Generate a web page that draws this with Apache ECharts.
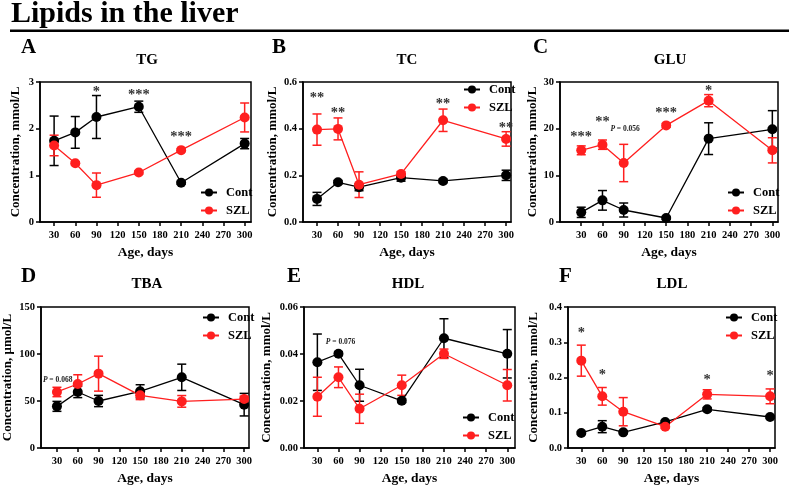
<!DOCTYPE html>
<html>
<head>
<meta charset="utf-8">
<script src="https://cdn.jsdelivr.net/npm/echarts@6/dist/echarts.min.js"></script>
<style>html,body{margin:0;padding:0;background:#fff}#c{width:789px;height:488px}</style>
</head>
<body>
<div id="c"></div>
<script>
const FONT = "'Liberation Serif','Times New Roman',serif";
const RED = '#ff1f1f';
const days = [30, 60, 90, 150, 210, 300];
const xTicks = [30, 60, 90, 120, 150, 180, 210, 240, 270, 300];

// TG (mmol/L)
const tgCont = [1.74, 1.92, 2.25, 2.47, 0.84, 1.68];
const tgContErr = [0.53, 0.34, 0.46, 0.12, 0.03, 0.11];
const tgSZL = [1.64, 1.26, 0.79, 1.06, 1.54, 2.24];
const tgSZLErr = [0.22, 0.03, 0.26, 0.03, 0.03, 0.31];
const tgMarks = [[90, 2.87, '*'], [150, 2.81, '***'], [210, 1.9, '***']];

// TC (mmol/L)
const tcCont = [0.099, 0.17, 0.149, 0.19, 0.176, 0.2];
const tcContErr = [0.028, 0.008, 0.015, 0.015, 0.008, 0.022];
const tcSZL = [0.396, 0.399, 0.16, 0.206, 0.436, 0.356];
const tcSZLErr = [0.067, 0.047, 0.055, 0.01, 0.048, 0.031];
const tcMarks = [[30, 0.546, '**'], [60, 0.484, '**'], [210, 0.52, '**'], [300, 0.42, '**']];

// GLU (mmol/L)
const gluCont = [2.07, 4.64, 2.57, 0.86, 17.86, 19.86];
const gluContErr = [1.1, 2.1, 1.5, 0.3, 3.4, 4.0];
const gluSZL = [15.36, 16.57, 12.64, 20.7, 26.0, 15.36];
const gluSZLErr = [0.95, 1.0, 4.0, 0.4, 1.3, 2.7];
const gluMarks = [[30, 19.1, '***'], [60, 22.3, '**'], [150, 24.2, '***'], [210, 28.9, '*']];
const gluP = [[92, 19.9, '{i|P} = 0.056']];

// TBA (µmol/L)
const tbaCont = [44.3, 59.6, 50, 60.3, 75.2, 46.1];
const tbaContErr = [5.3, 6, 6, 7, 14, 12];
const tbaSZL = [59.6, 68.1, 79.1, 56, 49.6, 52.1];
const tbaSZLErr = [5, 9.8, 18.6, 4.5, 6.2, 3];
const tbaMarks = [];
const tbaP = [[31, 72.7, '{i|P} = 0.068']];

// HDL (mmol/L)
const hdlCont = [0.0365, 0.0401, 0.0267, 0.0201, 0.0467, 0.0401];
const hdlContErr = [0.012, 0.0008, 0.0068, 0.0008, 0.0083, 0.0103];
const hdlSZL = [0.0218, 0.0301, 0.0167, 0.0267, 0.0401, 0.0267];
const hdlSZLErr = [0.0083, 0.0044, 0.0062, 0.0043, 0.002, 0.0067];
const hdlMarks = [];
const hdlP = [[63, 0.045, '{i|P} = 0.076']];

// LDL (mmol/L)
const ldlCont = [0.0426, 0.0605, 0.0444, 0.0738, 0.1097, 0.0879];
const ldlContErr = [0.004, 0.017, 0.004, 0.004, 0.005, 0.004];
const ldlSZL = [0.2478, 0.1466, 0.103, 0.0605, 0.1522, 0.1466];
const ldlSZLErr = [0.044, 0.025, 0.04, 0.005, 0.013, 0.021];
const ldlMarks = [[30, 0.3376, '*'], [60, 0.2175, '*'], [210, 0.2024, '*'], [300, 0.2156, '*']];

const panels = [
  {letter:'A', name:'TG', unit:'Concentration, mmol/L', cont:tgCont, contErr:tgContErr, szl:tgSZL, szlErr:tgSZLErr, marks:tgMarks, p:[],
   g:{left:40, top:82, width:211, height:140}, xmin:10, xmax:309, ymax:3, yint:1, dec:0, nameGap:18,
   lg:{left:200, top:186}, lt:[21, 48], tt:[147, 60]},
  {letter:'B', name:'TC', unit:'Concentration, mmol/L', cont:tcCont, contErr:tcContErr, szl:tcSZL, szlErr:tcSZLErr, marks:tcMarks, p:[],
   g:{left:303, top:82, width:208, height:140}, xmin:10, xmax:307, ymax:0.6, yint:0.2, dec:1, nameGap:24,
   lg:{left:463, top:83}, lt:[272, 48], tt:[407, 60]},
  {letter:'C', name:'GLU', unit:'Concentration, mmol/L', cont:gluCont, contErr:gluContErr, szl:gluSZL, szlErr:gluSZLErr, marks:gluMarks, p:gluP,
   g:{left:560, top:82, width:218, height:140}, xmin:0, xmax:308, ymax:30, yint:10, dec:0, nameGap:16,
   lg:{left:727, top:186}, lt:[533, 48], tt:[670, 60]},
  {letter:'D', name:'TBA', unit:'Concentration, \u03bcmol/L', cont:tbaCont, contErr:tbaContErr, szl:tbaSZL, szlErr:tbaSZLErr, marks:tbaMarks, p:tbaP,
   g:{left:41, top:307, width:208, height:141}, xmin:7, xmax:307, ymax:150, yint:50, dec:0, nameGap:27,
   lg:{left:202, top:311}, lt:[21, 277], tt:[147, 284]},
  {letter:'E', name:'HDL', unit:'Concentration, mmol/L', cont:hdlCont, contErr:hdlContErr, szl:hdlSZL, szlErr:hdlSZLErr, marks:hdlMarks, p:hdlP,
   g:{left:304, top:307, width:211, height:141}, xmin:11, xmax:311, ymax:0.06, yint:0.02, dec:2, nameGap:31,
   lg:{left:462, top:411}, lt:[287, 277], tt:[408, 284]},
  {letter:'F', name:'LDL', unit:'Concentration, mmol/L', cont:ldlCont, contErr:ldlContErr, szl:ldlSZL, szlErr:ldlSZLErr, marks:ldlMarks, p:[],
   g:{left:568, top:307, width:207, height:141}, xmin:11, xmax:307, ymax:0.4, yint:0.1, dec:1, nameGap:28,
   lg:{left:725, top:311}, lt:[559, 277], tt:[672, 284]}
];

function errRender(color) {
  return function (params, api) {
    const x = api.value(0), lo = api.value(1), hi = api.value(2);
    const a = api.coord([x, hi]), b = api.coord([x, lo]);
    const w = 4.5;
    const st = {stroke: color, lineWidth: 1.5};
    return {type: 'group', children: [
      {type: 'line', shape: {x1: a[0], y1: a[1], x2: b[0], y2: b[1]}, style: st},
      {type: 'line', shape: {x1: a[0] - w, y1: a[1], x2: a[0] + w, y2: a[1]}, style: st},
      {type: 'line', shape: {x1: b[0] - w, y1: b[1], x2: b[0] + w, y2: b[1]}, style: st}
    ]};
  };
}
function textRender(texts, size, dy, color) {
  return function (params, api) {
    const p = api.coord([api.value(0), api.value(1)]);
    const t = texts[params.dataIndex];
    return {type: 'text', x: p[0], y: p[1] + dy, style: {
      text: t, fill: color, fontSize: size, fontWeight: 'bold', fontFamily: FONT,
      align: 'center', verticalAlign: 'middle',
      rich: {i: {fontStyle: 'italic', fontWeight: 'bold', fontSize: size, fontFamily: FONT, fill: color}}
    }};
  };
}

const grid = [], xAxis = [], yAxis = [], series = [], legend = [], graphic = [];
graphic.push({type: 'text', x: 11, y: 14, style: {text: 'Lipids in the liver', fontSize: 30, fontWeight: 'bold', fontFamily: FONT, fill: '#000', align: 'left', verticalAlign: 'middle'}});
graphic.push({type: 'rect', shape: {x: 10, y: 29.5, width: 779, height: 2.5}, style: {fill: '#000'}});

panels.forEach((pn, i) => {
  grid.push(Object.assign({show: true, borderColor: '#000', borderWidth: 1.5, backgroundColor: 'transparent'}, pn.g));
  xAxis.push({type: 'value', gridIndex: i, min: pn.xmin, max: pn.xmax,
    name: 'Age, days', nameLocation: 'middle', nameGap: 24,
    nameTextStyle: {fontFamily: FONT, fontWeight: 'bold', fontSize: 13.5, color: '#000'},
    axisLine: {show: true, onZero: false, lineStyle: {color: '#000', width: 1.5}},
    axisTick: {show: true, length: 4, customValues: xTicks, lineStyle: {color: '#000', width: 1.5}},
    axisLabel: {customValues: xTicks, margin: 8, fontFamily: FONT, fontWeight: 'bold', fontSize: 10.5, color: '#000'},
    splitLine: {show: false}});
  yAxis.push({type: 'value', gridIndex: i, min: 0, max: pn.ymax, interval: pn.yint,
    name: pn.unit, nameLocation: 'middle', nameRotate: 90, nameGap: pn.nameGap,
    nameTextStyle: {fontFamily: FONT, fontWeight: 'bold', fontSize: 13, color: '#000'},
    axisLine: {show: true, lineStyle: {color: '#000', width: 1.5}},
    axisTick: {show: true, length: 4, lineStyle: {color: '#000', width: 1.5}},
    axisLabel: {margin: 6, fontFamily: FONT, fontWeight: 'bold', fontSize: 10.5, color: '#000',
      formatter: v => v.toFixed(pn.dec)},
    splitLine: {show: false}});
  const groups = [['Cont', pn.cont, pn.contErr, '#000'], ['SZL', pn.szl, pn.szlErr, RED]];
  groups.forEach(([nm, vals, errs, col]) => {
    series.push({type: 'custom', name: nm + ' err', xAxisIndex: i, yAxisIndex: i,
      renderItem: errRender(col), encode: {x: 0, y: [1, 2]}, silent: true, z: 2,
      data: days.map((d, k) => [d, vals[k] - errs[k], vals[k] + errs[k]])});
  });
  groups.forEach(([nm, vals, errs, col]) => {
    series.push({type: 'line', name: nm, xAxisIndex: i, yAxisIndex: i, z: 3,
      symbol: 'circle', symbolSize: 10, showSymbol: true,
      lineStyle: {color: col, width: 1.3}, itemStyle: {color: col},
      data: days.map((d, k) => [d, vals[k]])});
  });
  if (pn.marks.length) {
    const texts = pn.marks.map(m => m[2]);
    series.push({type: 'custom', xAxisIndex: i, yAxisIndex: i, silent: true, z: 4,
      renderItem: textRender(texts, 14.5, 4, '#333'),
      data: pn.marks.map(m => [m[0], m[1]])});
  }
  if (pn.p.length) {
    const texts = pn.p.map(m => m[2]);
    series.push({type: 'custom', xAxisIndex: i, yAxisIndex: i, silent: true, z: 4,
      renderItem: textRender(texts, 7.5, 0, '#222'),
      data: pn.p.map(m => [m[0], m[1]])});
  }
  legend.push({data: ['Cont', 'SZL'], orient: 'vertical', left: pn.lg.left, top: pn.lg.top,
    itemWidth: 16, itemHeight: 10, itemGap: 5, padding: 0, selectedMode: false,
    textStyle: {fontFamily: FONT, fontWeight: 'bold', fontSize: 12.5, color: '#000', padding: [0, 0, 0, 4]}});
  graphic.push({type: 'text', x: pn.lt[0], y: pn.lt[1], style: {text: pn.letter, fontSize: 21, fontWeight: 'bold', fontFamily: FONT, fill: '#000', align: 'left', verticalAlign: 'middle'}});
  graphic.push({type: 'text', x: pn.tt[0], y: pn.tt[1], style: {text: pn.name, fontSize: 15, fontWeight: 'bold', fontFamily: FONT, fill: '#000', align: 'center', verticalAlign: 'middle'}});
});

const chart = echarts.init(document.getElementById('c'), null, {renderer: 'canvas'});
chart.setOption({animation: false, backgroundColor: '#fff', grid, xAxis, yAxis, series, legend, graphic});
</script>
</body>
</html>
